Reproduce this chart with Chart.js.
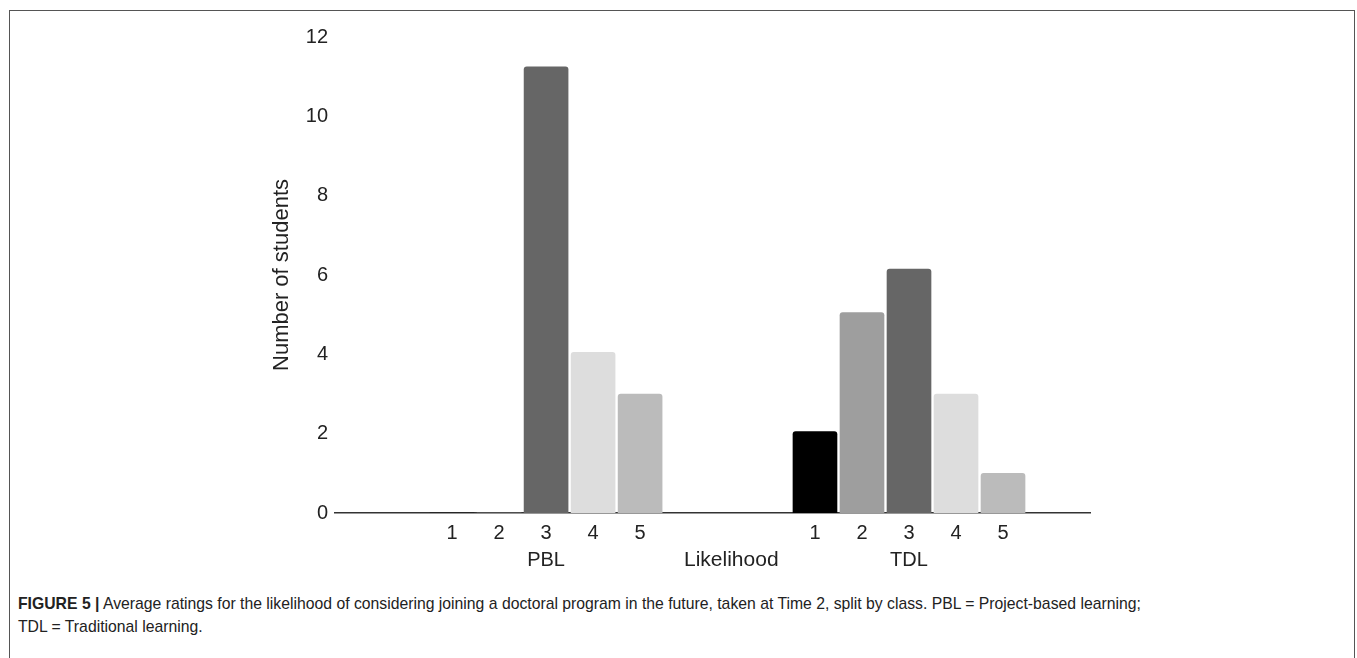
<!DOCTYPE html>
<html>
<head>
<meta charset="utf-8">
<script src="https://cdn.jsdelivr.net/npm/chart.js@4"></script>
<style>
  html, body { margin: 0; padding: 0; background: #fff; width: 1357px; height: 658px; overflow: hidden; }
  #frame { position: absolute; left: 9px; top: 10px; width: 1344px; height: 700px; border: 1px solid #555; border-bottom: none; }
  #wrap { position: absolute; left: 0; top: 0; width: 1357px; height: 590px; }
  #caption { position: absolute; left: 18px; top: 592px; font: 15.75px "Liberation Sans", Arial, sans-serif; line-height: 23px; color: #222; }
  #caption b { font-weight: bold; }
</style>
</head>
<body>
<div id="frame"></div>
<div id="wrap"><canvas id="grafico"></canvas></div>
<div id="caption"><b>FIGURE 5 |</b> Average ratings for the likelihood of considering joining a doctoral program in the future, taken at Time 2, split by class. PBL = Project-based learning;<br>TDL = Traditional learning.</div>
<script>
const likelihood = ["1", "2", "3", "4", "5"];
const classes = ["PBL", "TDL"];
const pblCounts = [0, 0, 11.25, 4.05, 3];
const tdlCounts = [2.05, 5.05, 6.15, 3, 1];
const yTicks = [0, 2, 4, 6, 8, 10, 12];
const yTitle = "Number of students";
const xTitle = "Likelihood";
const shades = ["#000000", "#9e9e9e", "#666666", "#dddddd", "#bbbbbb"];

// where each class group starts on the x scale (in bar pitches)
const groupStart = [2.49, 10.21];
const xTitlePos = 8.43;
const xMax = 16.06;

const counts = [pblCounts, tdlCounts];
const points = [];
const colors = [];
const tickPos = [];
const tickText = [];

classes.forEach((cls, g) => {
  likelihood.forEach((lab, i) => {
    const x = groupStart[g] + i;
    points.push({ x: x, y: counts[g][i] });
    colors.push(shades[i]);
    tickPos.push(x);
    tickText.push(i === 2 ? [lab, cls] : lab);
  });
});
tickPos.push(xTitlePos);
tickText.push(["", xTitle]);

const familia = "'Liberation Sans', Arial, sans-serif";

new Chart(document.getElementById("grafico").getContext("2d"), {
  type: "bar",
  data: {
    datasets: [{
      data: points,
      backgroundColor: colors,
      barThickness: 44,
      borderRadius: { topLeft: 3, topRight: 3 },
      borderSkipped: "bottom"
    }]
  },
  options: {
    responsive: true,
    maintainAspectRatio: false,
    animation: false,
    layout: { padding: { left: 265, right: 267, top: 37, bottom: 0 } },
    plugins: { legend: { display: false }, tooltip: { enabled: false } },
    scales: {
      x: {
        type: "linear",
        offset: false,
        min: 0,
        max: xMax,
        grid: { display: false, drawTicks: false, offset: false },
        border: { display: true, color: "#333", width: 1.5 },
        afterBuildTicks: s => { s.ticks = tickPos.map(v => ({ value: v })); },
        afterFit: s => { s.height = 77; },
        ticks: {
          autoSkip: false,
          maxRotation: 0,
          padding: 7,
          color: "#222",
          font: ctx => ({ family: familia, size: ctx.index === tickPos.length - 1 ? 21 : 20, lineHeight: "27px" }),
          callback: (v, i) => tickText[i]
        }
      },
      y: {
        min: 0,
        max: 12,
        grid: { display: false, drawTicks: false },
        border: { display: false },
        afterBuildTicks: s => { s.ticks = yTicks.map(v => ({ value: v })); },
        afterFit: s => { s.width = 70; },
        ticks: { padding: 7, color: "#222", font: { family: familia, size: 20 } },
        title: { display: true, text: yTitle, color: "#222", font: { family: familia, size: 22 }, padding: 4 }
      }
    }
  }
});
</script>
</body>
</html>
